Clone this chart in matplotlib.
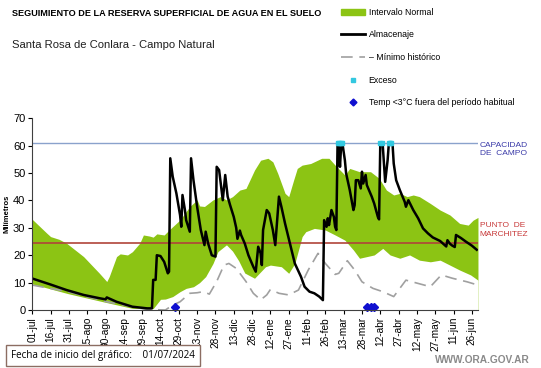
import matplotlib.pyplot as plt
from matplotlib.patches import Patch
from matplotlib.lines import Line2D

# datos (dias desde 01/07/2024, mm)
dias_sup = [0, 12, 15, 22, 28, 42, 55, 61, 63, 69, 72, 78, 82, 88, 91, 96, 99, 102, 108, 112,
            121, 129, 135, 137, 141, 148, 154, 159, 164, 170, 175, 182, 187, 193, 197, 201,
            207, 210, 214, 217, 221, 228, 237, 243, 248, 256, 260, 268, 277, 284, 290, 296,
            301, 307, 312, 317, 326, 334, 342, 350, 357, 361, 365]
lim_sup = [33.1, 28, 26.8, 25.8, 24.4, 19.5, 13.4, 10.4, 12.2, 19.5, 20.5, 20.1, 21.3, 24.4,
           27.4, 27, 26.6, 27.8, 27.4, 29.2, 32.9, 37.8, 40.2, 38, 37.8, 40.2, 41.4, 40.2,
           41.4, 43.8, 44.4, 51.1, 54.7, 55.4, 54.1, 49.9, 42.6, 41.4, 47.4, 51.7, 52.9, 53.5,
           55.4, 55.4, 52.9, 49.3, 51.7, 50.5, 50.5, 48.1, 43.8, 42, 42.6, 41.4, 42, 41.4,
           38.9, 36.5, 34.7, 31.6, 31, 32.8, 33.8]

dias_inf = [0, 29, 58, 73, 82, 97, 99, 105, 109, 115, 121, 126, 132, 137, 142, 148, 152, 159,
            164, 169, 174, 182, 191, 195, 204, 210, 215, 221, 224, 231, 240, 248, 256, 263,
            268, 274, 280, 287, 293, 301, 309, 317, 326, 334, 342, 350, 359, 365]
lim_inf = [9.5, 6, 3, 1.5, 0.6, 0.5, 0.5, 3.9, 4, 4.9, 6.7, 7.9, 8.5, 10, 12.2, 17, 21.3, 23.8,
           21.5, 18, 13.5, 11.6, 15.8, 16.4, 15.8, 13.4, 17, 26.8, 28.6, 29.8, 29.2, 27.4,
           25.5, 21.9, 18.9, 19.5, 20.1, 22.5, 20.1, 18.9, 20.1, 18.2, 17.6, 18.2, 16.4,
           14.6, 12.8, 10.9]

dias_min = [0, 29, 55, 61, 82, 94, 109, 115, 121, 129, 135, 140, 145, 151, 157, 161, 167,
            175, 181, 187, 192, 195, 202, 210, 218, 226, 234, 240, 248, 251, 258, 264, 270,
            279, 287, 296, 306, 316, 326, 335, 344, 356, 365]
minimo = [9.1, 6.7, 3.7, 3, 1.2, 0.2, 0, 1.8, 3, 6.1, 6.3, 6.7, 5.8, 10.4, 16.4, 17, 15.2,
          10.4, 6.1, 3.7, 5.5, 7.5, 6.1, 5.5, 7.3, 14.6, 20.7, 17, 13, 13.4, 18, 14.6, 10.3,
          7.9, 6.7, 4.9, 10.9, 9.7, 8.5, 12.8, 11.6, 10.3, 9.1]

dias_alm = [0, 15, 28, 42, 55, 60, 61, 69, 82, 94, 98, 99, 101, 102, 105, 108, 111, 112, 113,
            115, 118, 121, 122, 123, 125, 126, 129, 130, 132, 135, 138, 141, 142, 144, 147,
            150, 151, 153, 156, 158, 160, 162, 165, 167, 168, 170, 171, 174, 177, 181, 183,
            185, 187, 188, 189, 192, 194, 197, 199, 201, 202, 204, 207, 211, 215, 220, 223,
            227, 231, 235, 238, 239, 241, 242, 243, 245, 247, 248, 249, 250, 251, 252, 253,
            254, 256, 257, 260, 263, 264, 265, 267, 269, 270, 271, 273, 274, 278, 280, 283,
            284, 285, 287, 288, 289, 291, 292, 295, 296, 298, 301, 305, 306, 308, 312, 316,
            320, 324, 328, 334, 339, 340, 342, 344, 346, 347, 351, 355, 360, 364]
almacenaje = [11.5, 9.3, 7.3, 5.5, 4.3, 3.9, 4.6, 3, 1.2, 0.6, 0.6, 11, 11, 20, 19.7, 17.6,
              13.4, 14, 55.4, 48.7, 42.6, 34.7, 30.4, 42, 36.5, 32.8, 28.6, 55.4, 47.4, 37.7,
              29.2, 23.7, 28.6, 24.3, 20, 19.5, 52.3, 51.1, 40.1, 49.3, 41.4, 38.3, 34, 30,
              26, 29, 27.4, 24.3, 20, 15.8, 14, 23.1, 20.7, 16.4, 29.2, 36.5, 35.3, 29.2,
              23.7, 35.3, 41.4, 37.7, 31.6, 24.3, 17, 12.2, 8.5, 6.7, 6.1, 4.9, 3.6, 32.8,
              30.4, 33.5, 31, 36.5, 34, 30.4, 29.2, 60.8, 59.6, 52.3, 60.8, 60.8, 54.7, 49.9,
              43.8, 36.5, 38.3, 47.4, 47.4, 44.4, 50.5, 46.2, 49.3, 45.6, 41.4, 38.9, 34,
              33.1, 60.8, 60.2, 53.5, 46.8, 54.7, 60.8, 60.8, 53.5, 47.4, 43.8, 39.5, 37.7,
              40.1, 36.5, 33.5, 29.8, 28, 26.5, 25.2, 23.2, 25.5, 24.2, 23.5, 23, 27.4, 26.3,
              25, 23.5, 22]

dias_exceso = [250, 251, 253, 254, 285, 286, 292, 293, 294]
exceso = [61, 61, 61, 61, 61, 61, 61, 61, 61]

dias_helada = [117, 274, 277, 280]
helada = [1, 1, 1, 1]

capacidad = 61
marchitez = 24.3

etiquetas_x = ['01-jul', '16-jul', '31-jul', '15-ago', '30-ago', '14-sep', '29-sep', '14-oct',
               '29-oct', '13-nov', '28-nov', '13-dic', '28-dic', '12-ene', '27-ene', '11-feb',
               '26-feb', '13-mar', '28-mar', '12-abr', '27-abr', '12-may', '27-may', '11-jun',
               '26-jun']

plt.rcParams['font.family'] = ['Liberation Sans', 'DejaVu Sans']

fig = plt.figure(figsize=(5.41, 3.68), dpi=100)
ax = fig.add_axes([0.0597, 0.1576, 0.8238, 0.5209])

verde = '#8cc414'
ax.fill_between(dias_sup, lim_sup, 0, color=verde, linewidth=0)
ax.fill_between(dias_inf, lim_inf, 0, color='white', linewidth=0)
ax.plot(dias_min, minimo, color='#a0a0a0', linewidth=1.2, dashes=(7, 4))
ax.axhline(capacidad, color='#8aa2cc', linewidth=1)
ax.axhline(marchitez, color='#b0443a', linewidth=1.2)
ax.plot(dias_alm, almacenaje, color='black', linewidth=1.8)
ax.plot(dias_exceso, exceso, 's', color='#33c8e0', markersize=2.8, clip_on=False)
ax.plot(dias_helada, helada, 'D', color='#1010d0', markersize=4, clip_on=False)

ax.set_xlim(0, 365)
ax.set_ylim(0, 70)
ax.set_xticks(range(0, 361, 15))
ax.set_xticklabels(etiquetas_x, rotation=90, fontsize=7.3)
ax.set_yticks(range(0, 71, 10))
ax.tick_params(axis='y', labelsize=8, length=3, pad=2)
ax.tick_params(axis='x', length=3, pad=2)
for lado in ['top', 'right']:
    ax.spines[lado].set_visible(False)
ax.spines['left'].set_color('#404040')
ax.spines['bottom'].set_color('#404040')
ax.set_ylabel('Milímetros', fontsize=5.5, fontweight='bold', labelpad=2)

fig.text(0.887, 0.594, 'CAPACIDAD\nDE  CAMPO', color='#3a3aa8', fontsize=6, va='center',
         linespacing=1.3)
fig.text(0.887, 0.375, 'PUNTO  DE\nMARCHITEZ', color='#c83a3a', fontsize=6, va='center',
         linespacing=1.3)

fig.text(0.022, 0.962, 'SEGUIMIENTO DE LA RESERVA SUPERFICIAL DE AGUA EN EL SUELO',
         fontsize=6.6, fontweight='bold', va='center')
fig.text(0.022, 0.878, 'Santa Rosa de Conlara - Campo Natural', fontsize=8.1, va='center',
         color='#202020')

manijas = [Patch(color=verde),
           Line2D([], [], color='black', linewidth=2),
           Line2D([], [], color='#a0a0a0', linewidth=1.2, dashes=(7, 4)),
           Line2D([], [], linestyle='none', marker='s', color='#33c8e0', markersize=2.5),
           Line2D([], [], linestyle='none', marker='D', color='#1010d0', markersize=3.5)]
textos = ['Intervalo Normal', 'Almacenaje', '– Mínimo histórico', 'Exceso',
          'Temp <3°C fuera del período habitual']
fig.legend(manijas, textos, loc='upper left', bbox_to_anchor=(0.615, 1.0), frameon=False,
           fontsize=6.3, handlelength=2.8, handletextpad=0.4, labelspacing=1.55)

fig.text(0.02, 0.033, 'Fecha de inicio del gráfico:    01/07/2024', fontsize=7.1,
         family=['Open Sans', 'DejaVu Sans'], va='center',
         bbox=dict(boxstyle='square,pad=0.5', facecolor='white', edgecolor='#8c6d62',
                   linewidth=1))
fig.text(0.98, 0.022, 'WWW.ORA.GOV.AR', fontsize=7.3, fontweight='bold', color='#8a8a8a',
         ha='right', va='center')

fig.savefig('out.png', dpi=100)
